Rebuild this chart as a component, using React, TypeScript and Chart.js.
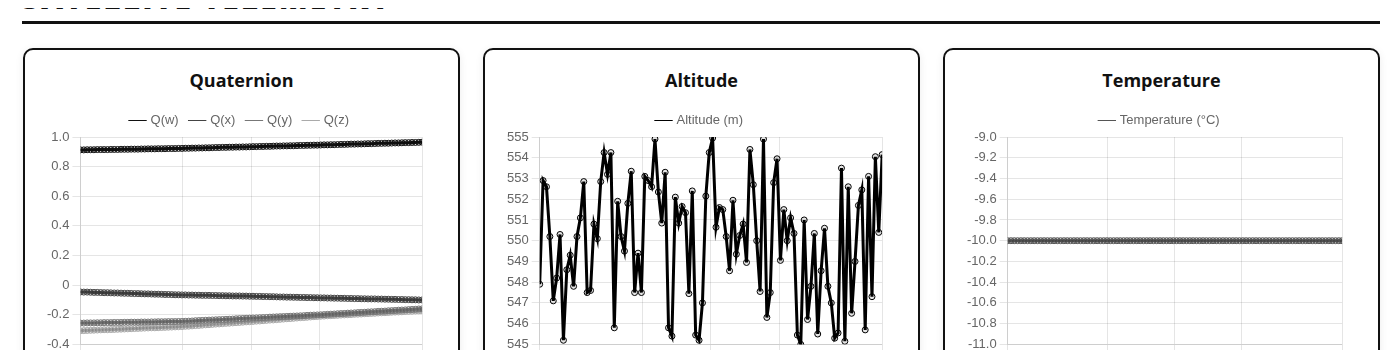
import React, { useEffect, useRef } from "react";
import { Chart, registerables } from "chart.js";

Chart.register(...registerables);

// ---- data ----
const sampleTimes = [
  0, 1, 2, 3, 4, 5, 6, 7, 8, 9, 10, 11, 12, 13, 14, 15, 16, 17, 18, 19, 20, 21, 22, 23, 24, 25,
  26, 27, 28, 29, 30, 31, 32, 33, 34, 35, 36, 37, 38, 39, 40, 41, 42, 43, 44, 45, 46, 47, 48, 49, 50,
  51, 52, 53, 54, 55, 56, 57, 58, 59, 60, 61, 62, 63, 64, 65, 66, 67, 68, 69, 70, 71, 72, 73, 74, 75,
  76, 77, 78, 79, 80, 81, 82, 83, 84, 85, 86, 87, 88, 89, 90, 91, 92, 93, 94, 95, 96, 97, 98, 99, 100, 101,
];

const xTickValues = [0, 30.3, 50.5, 70.7, 101];

const quatW = [
  0.913, 0.913, 0.914, 0.914, 0.914, 0.915, 0.915, 0.915, 0.915, 0.916, 0.916,
  0.916, 0.917, 0.917, 0.917, 0.918, 0.918, 0.918, 0.919, 0.919, 0.92, 0.92, 0.92, 0.921, 0.921,
  0.921, 0.922, 0.922, 0.922, 0.923, 0.923,
  0.924, 0.924, 0.925, 0.925, 0.926, 0.926, 0.927, 0.927, 0.928, 0.929, 0.929, 0.93, 0.93, 0.931,
  0.931, 0.932, 0.932, 0.933, 0.933, 0.934,
  0.935, 0.935, 0.936, 0.936, 0.937, 0.937, 0.938, 0.939, 0.939, 0.94, 0.94, 0.941, 0.941, 0.942,
  0.943, 0.943, 0.944, 0.944, 0.945, 0.945, 0.946,
  0.947, 0.947, 0.948, 0.948, 0.949, 0.95, 0.95, 0.951, 0.952, 0.952, 0.953, 0.953, 0.954, 0.955,
  0.955, 0.956, 0.957, 0.957, 0.958, 0.958, 0.959, 0.96, 0.96, 0.961, 0.962, 0.962, 0.963, 0.963,
  0.964, 0.965,
];

const quatX = [
  -0.046, -0.047, -0.047, -0.048, -0.049, -0.049, -0.05, -0.051, -0.051, -0.052, -0.053, -0.053,
  -0.054, -0.055, -0.055, -0.056, -0.057, -0.057, -0.058, -0.059, -0.059, -0.06, -0.061, -0.061,
  -0.062, -0.063, -0.063, -0.064, -0.065, -0.065, -0.066,
  -0.066, -0.067, -0.067, -0.068, -0.068, -0.069, -0.069, -0.069, -0.07, -0.07, -0.071, -0.071,
  -0.072, -0.072, -0.073, -0.073, -0.073, -0.074, -0.074, -0.075, -0.075,
  -0.076, -0.076, -0.077, -0.077, -0.078, -0.078, -0.079, -0.08, -0.08, -0.081, -0.081, -0.082,
  -0.082, -0.083, -0.083, -0.084, -0.084, -0.085, -0.085, -0.086,
  -0.086, -0.087, -0.087, -0.088, -0.088, -0.089, -0.089, -0.09, -0.09, -0.091, -0.091, -0.092,
  -0.092, -0.093, -0.093, -0.093, -0.094, -0.094, -0.095, -0.095, -0.096, -0.096, -0.097, -0.097,
  -0.098, -0.098, -0.099, -0.099, -0.1, -0.1,
];

const quatY = [
  -0.256, -0.256, -0.255, -0.255, -0.255, -0.254, -0.254, -0.253, -0.253, -0.253, -0.252, -0.252,
  -0.252, -0.251, -0.251, -0.25, -0.25, -0.25, -0.249, -0.249, -0.249, -0.248, -0.248, -0.247,
  -0.247, -0.247, -0.246, -0.246, -0.246, -0.245, -0.245,
  -0.244, -0.243, -0.242, -0.24, -0.239, -0.238, -0.237, -0.236, -0.235, -0.234, -0.233, -0.232,
  -0.231, -0.23, -0.229, -0.227, -0.226, -0.225, -0.224, -0.223, -0.222,
  -0.221, -0.22, -0.219, -0.218, -0.216, -0.215, -0.214, -0.213, -0.212, -0.211, -0.21, -0.209,
  -0.208, -0.207, -0.206, -0.204, -0.203, -0.202, -0.201, -0.2,
  -0.199, -0.197, -0.196, -0.195, -0.193, -0.192, -0.191, -0.189, -0.188, -0.187, -0.185, -0.184,
  -0.183, -0.181, -0.18, -0.179, -0.177, -0.176, -0.175, -0.173, -0.172, -0.171, -0.169, -0.168,
  -0.167, -0.165, -0.164, -0.163, -0.161, -0.16,
];

const quatZ = [
  -0.308, -0.307, -0.306, -0.305, -0.304, -0.303, -0.302, -0.301, -0.301, -0.3, -0.299, -0.298,
  -0.297, -0.296, -0.295, -0.294, -0.293, -0.292, -0.291, -0.29, -0.289, -0.288, -0.288, -0.287,
  -0.286, -0.285, -0.284, -0.283, -0.282, -0.281, -0.28,
  -0.278, -0.277, -0.275, -0.273, -0.272, -0.27, -0.268, -0.267, -0.265, -0.263, -0.262, -0.26,
  -0.258, -0.257, -0.255, -0.253, -0.252, -0.25, -0.248, -0.247, -0.245,
  -0.243, -0.242, -0.24, -0.238, -0.236, -0.235, -0.233, -0.231, -0.229, -0.227, -0.226, -0.224,
  -0.222, -0.22, -0.219, -0.217, -0.215, -0.213, -0.212, -0.21,
  -0.209, -0.207, -0.206, -0.205, -0.204, -0.202, -0.201, -0.2, -0.199, -0.197, -0.196, -0.195,
  -0.193, -0.192, -0.191, -0.19, -0.188, -0.187, -0.186, -0.185, -0.183, -0.182, -0.181, -0.18,
  -0.178, -0.177, -0.176, -0.174, -0.173, -0.172,
];

const altitude = [
  547.9, 552.9, 552.6, 550.2, 547.1, 548.2, 550.3, 545.2, 548.6, 549.3,
  547.8, 550.2, 551.1, 552.85, 547.5, 547.6, 550.8, 550.1, 552.85, 554.25,
  553.2, 554.25, 545.8, 551.9, 550.2, 549.5, 551.8, 553.35, 547.5, 549.4,
  547.5, 553.1, 552.9, 552.6, 554.9, 552.35, 550.85, 553.3, 545.8, 545.4,
  552.1, 550.85, 551.65, 551.35, 547.45, 552.4, 545.45, 545.2, 547.0, 552.15,
  554.25, 554.95, 550.65, 551.6, 551.5, 550.2, 548.55, 551.95, 549.35, 550.25,
  550.8, 548.95, 554.4, 552.7, 550.0, 547.55, 554.9, 546.3, 547.5, 552.8,
  553.95, 549.05, 551.5, 550.0, 551.1, 550.35, 545.45, 545.0, 551.0, 546.2,
  547.8, 550.35, 545.5, 548.55, 550.6, 547.8, 547.0, 545.3, 545.55, 553.5,
  545.15, 552.6, 546.5, 549.0, 551.7, 552.45, 545.7, 553.1, 547.3, 554.05,
  550.4, 554.15,
];

const temperature = [
  -10, -10, -10, -10, -10, -10, -10, -10, -10, -10, -10, -10, -10, -10, -10, -10, -10,
  -10, -10, -10, -10, -10, -10, -10, -10, -10, -10, -10, -10, -10, -10, -10, -10, -10,
  -10, -10, -10, -10, -10, -10, -10, -10, -10, -10, -10, -10, -10, -10, -10, -10, -10,
  -10, -10, -10, -10, -10, -10, -10, -10, -10, -10, -10, -10, -10, -10, -10, -10, -10,
  -10, -10, -10, -10, -10, -10, -10, -10, -10, -10, -10, -10, -10, -10, -10, -10, -10,
  -10, -10, -10, -10, -10, -10, -10, -10, -10, -10, -10, -10, -10, -10, -10, -10, -10,
];

// ---- helpers ----
const toPoints = (vals: number[]) => vals.map((v, i) => ({ x: sampleTimes[i], y: v }));

function baseOptions(yMin: number, yMax: number): any {
  return {
    responsive: true,
    maintainAspectRatio: false,
    animation: false,
    plugins: {
      legend: {
        labels: {
          usePointStyle: true,
          pointStyle: "line",
          color: "#666",
          padding: 12,
          font: { size: 13 },
        },
      },
      tooltip: { enabled: false },
    },
    scales: {
      x: {
        type: "linear",
        min: sampleTimes[0],
        max: sampleTimes[sampleTimes.length - 1],
        afterBuildTicks: (axis: any) => {
          axis.ticks = xTickValues.map((v) => ({ value: v }));
        },
        ticks: {
          maxRotation: 0,
          font: { size: 13 },
          callback: (v: any) => String(Math.round(Number(v))),
        },
      },
      y: {
        min: yMin,
        max: yMax,
        ticks: { font: { size: 13 } },
      },
    },
  };
}

function ChartCard({ title, config }: { title: string; config: () => any }) {
  const ref = useRef<HTMLCanvasElement | null>(null);
  useEffect(() => {
    if (!ref.current) return;
    const chart = new Chart(ref.current, config());
    return () => chart.destroy();
  }, []);
  return (
    <div
      style={{
        border: "2px solid #111",
        borderRadius: 10,
        padding: "18px 22px 18px 19px",
        background: "#fff",
        boxShadow: "0 2px 8px rgba(0,0,0,0.08)",
      }}
    >
      <h3
        style={{
          margin: "0 0 10px 0",
          fontFamily: "'Open Sans', sans-serif",
          fontWeight: 700,
          fontSize: 18,
          lineHeight: "24px",
          textAlign: "center",
          color: "#111",
          paddingLeft: 3,
        }}
      >
        {title}
      </h3>
      <div style={{ position: "relative", height: 272 }}>
        <canvas ref={ref} />
      </div>
    </div>
  );
}

const quaternionConfig = () => ({
  type: "line",
  data: {
    datasets: [
      { label: "Q(w)", data: toPoints(quatW), borderColor: "#111" },
      { label: "Q(x)", data: toPoints(quatX), borderColor: "#444" },
      { label: "Q(y)", data: toPoints(quatY), borderColor: "#777" },
      { label: "Q(z)", data: toPoints(quatZ), borderColor: "#aaa" },
    ],
  },
  options: baseOptions(-0.4, 1.0),
});

const altitudeConfig = () => ({
  type: "line",
  data: {
    datasets: [{ label: "Altitude (m)", data: toPoints(altitude), borderColor: "#000" }],
  },
  options: baseOptions(545, 555),
});

const temperatureConfig = () => ({
  type: "line",
  data: {
    datasets: [{ label: "Temperature (°C)", data: toPoints(temperature), borderColor: "#555" }],
  },
  options: baseOptions(-11, -9),
});

export default function App() {
  return (
    <div style={{ position: "relative", marginLeft: 14, width: 1358, paddingTop: 13 }}>
      <h1
        style={{
          position: "absolute",
          left: 0,
          top: -25,
          margin: 0,
          fontFamily: "'Open Sans', sans-serif",
          fontWeight: 800,
          fontSize: 30,
          lineHeight: "30px",
          letterSpacing: 2,
          color: "#111",
          whiteSpace: "nowrap",
        }}
      >
        SATELLITE TELEMETRY
      </h1>
      <div style={{ height: 3, background: "#111", marginBottom: 24 }} />
      <div
        style={{
          display: "grid",
          gridTemplateColumns: "1fr 1fr 1fr",
          gap: 23,
          marginLeft: 1,
        }}
      >
        <ChartCard title="Quaternion" config={quaternionConfig} />
        <ChartCard title="Altitude" config={altitudeConfig} />
        <ChartCard title="Temperature" config={temperatureConfig} />
      </div>
    </div>
  );
}
